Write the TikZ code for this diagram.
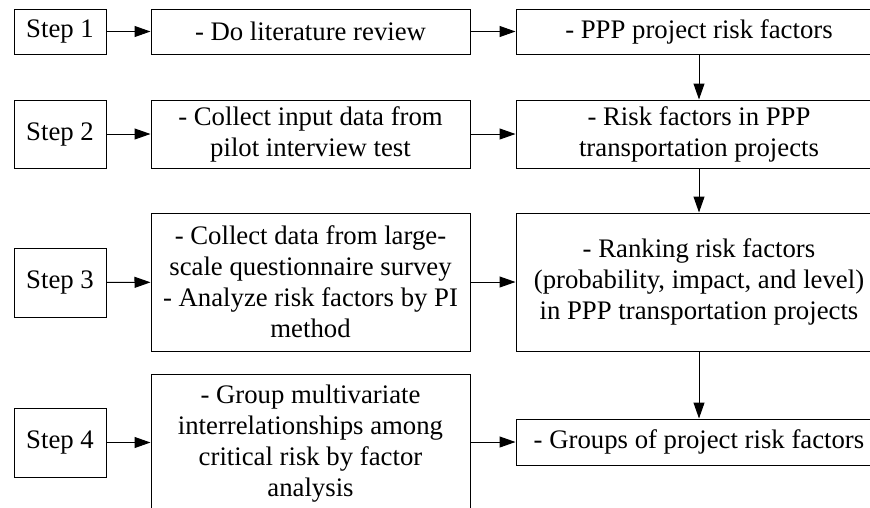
\documentclass[tikz,border=0pt]{standalone}
\usepackage{fontspec}
\setmainfont{Liberation Serif}
\usetikzlibrary{arrows.meta}

\tikzset{
	stepbox/.style={draw, line width=1pt, minimum width=92pt, minimum height=69pt, inner sep=0pt},
	taskbox/.style={draw, line width=1pt, align=center, minimum width=319pt, inner sep=0pt},
	outbox/.style={draw, line width=1pt, align=center, minimum width=366pt, inner sep=0pt},
	arr/.style={-{Triangle[length=16pt,width=11pt]}, line width=1pt}
}

\begin{document}
\begin{tikzpicture}[x=1pt, y=-1pt, font=\fontsize{26.75}{31}\selectfont]
		\useasboundingbox (0,0) rectangle (870,507);

		% step 1
		\node[stepbox, minimum height=45pt] (step1) at (60,31.5) {Step 1};
		\node[taskbox, minimum height=45pt] (task1) at (310.5,31.5) {- Do literature review};
		\node[outbox, minimum height=45pt] (out1) at (699,31.5) {- PPP project risk factors};

		% step 2
		\node[stepbox, minimum height=68pt] (step2) at (60,134) {Step 2};
		\node[taskbox, minimum height=68pt] (task2) at (310.5,134) {- Collect input data from\\pilot interview test};
		\node[outbox, minimum height=68pt] (out2) at (699,134) {- Risk factors in PPP\\transportation projects};

		% step 3
		\node[stepbox] (step3) at (60,282.5) {Step 3};
		\node[taskbox, minimum height=138pt] (task3) at (310.5,282) {- Collect data from large-\\scale questionnaire survey\\- Analyze risk factors by PI\\method};
		\node[outbox, minimum height=138pt] (out3) at (699,282) {- Ranking risk factors\\(probability, impact, and level)\\in PPP transportation projects};

		% step 4
		\node[stepbox] (step4) at (60,442.5) {Step 4};
		\node[taskbox, minimum height=140pt] (task4) at (310.5,444) {- Group multivariate\\interrelationships among\\critical risk by factor\\analysis};
		\node[outbox, minimum height=46pt] (out4) at (699,442) {- Groups of project risk factors};

		\draw[arr] (step1) -- (task1);
		\draw[arr] (task1) -- (out1);
		\draw[arr] (step2) -- (task2);
		\draw[arr] (task2) -- (out2);
		\draw[arr] (step3) -- (task3);
		\draw[arr] (task3) -- (out3);
		\draw[arr] (step4.east) -- (task4.west |- step4.east);
		\draw[arr] (task4.east |- out4.west) -- (out4);

		\draw[arr] (out1) -- (out2);
		\draw[arr] (out2) -- (out3);
		\draw[arr] (out3) -- (out4);
	\end{tikzpicture}
\end{document}
